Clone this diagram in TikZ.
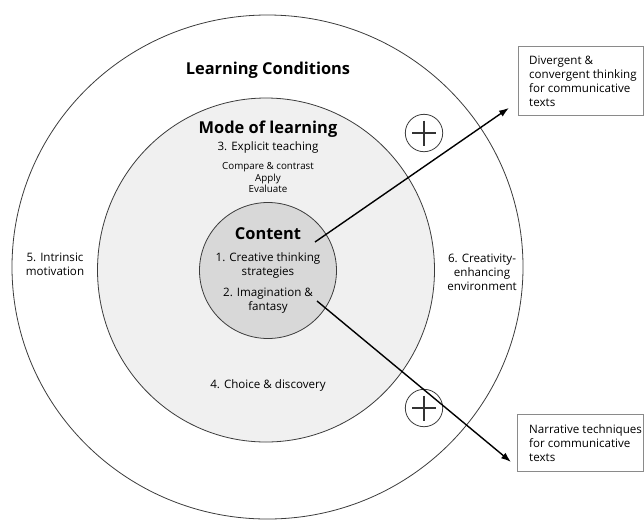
\documentclass[tikz,border=0pt]{standalone}
\usepackage{fontspec}
\setmainfont{Open Sans}
\usetikzlibrary{shapes.geometric,arrows.meta}
\definecolor{ringline}{HTML}{3C3C3C}
\definecolor{modefill}{HTML}{F0F0F0}
\definecolor{corefill}{HTML}{D8D8D8}
\definecolor{boxline}{HTML}{8A8A8A}
\definecolor{plusink}{HTML}{333333}
\begin{document}
\begin{tikzpicture}[x=1pt,y=-1pt,
  ring/.style={draw=ringline, line width=0.8pt, ellipse, inner sep=0pt},
  head/.style={font=\fontsize{16.4}{19}\selectfont\bfseries, inner sep=0pt},
  lbl/.style={font=\fontsize{11.6}{14}\selectfont, align=center, inner sep=0pt},
  small/.style={font=\fontsize{9.8}{11.7}\selectfont, align=center, inner sep=0pt},
  outbox/.style={draw=boxline, line width=0.9pt, anchor=north west, inner sep=0pt},
  outtext/.style={font=\fontsize{11.6}{14}\selectfont, align=left, inner sep=0pt, anchor=west},
  plus/.style={draw=ringline, circle, line width=0.8pt, minimum size=37.4pt, inner sep=0pt, fill=white},
  plusmark/.style={draw=plusink, line width=2.4pt},
  link/.style={line width=1.4pt, -{Latex[length=10pt,width=7pt]}}
]
\useasboundingbox (0,0) rectangle (644,520);

% nested rings
\node[ring, fill=white, minimum width=511pt, minimum height=504pt] (outer) at (267.5,267) {};
\node[ring, fill=modefill, minimum width=337pt, minimum height=344pt] (mode) at (266,270) {};
\node[ring, fill=corefill, minimum width=137pt, minimum height=136pt] (core) at (268,270.5) {};

% ring titles and items
\node[head] (condtitle) at (268,70) {Learning Conditions};
\node[head] (modetitle) at (268,129) {Mode of learning};
\node[lbl] (explicit) at (268,147) {3. Explicit teaching};
\node[small] (steps) at (268,177.5) {Compare \& contrast\\Apply\\Evaluate};
\node[head] (coretitle) at (268,234) {Content};
\node[lbl] (creative) at (268,265.5) {1. Creative thinking\\strategies};
\node[lbl] (imagine) at (268,301) {2. Imagination \&\\fantasy};
\node[lbl] (choice) at (268,385) {4. Choice \& discovery};
\node[lbl] (intrinsic) at (55,264.5) {5. Intrinsic\\motivation};
\node[lbl] (environ) at (482,272) {6. Creativity-\\enhancing\\environment};

% plus signs
\node[plus] (p1) at (424,133) {};
\node[plus] (p2) at (424,408) {};
\foreach \p in {p1,p2}{
  \draw[plusmark] (\p.center) ++(-12,0) -- ++(24,0);
  \draw[plusmark] (\p.center) ++(0,-12.5) -- ++(0,25);
}

% outcome boxes
\node[outbox, minimum width=125pt, minimum height=69pt] (box1) at (518,46) {};
\node[outtext] (box1text) at ([xshift=11pt]box1.west) {Divergent \&\\convergent thinking\\for communicative\\texts};
\node[outbox, minimum width=126pt, minimum height=57pt] (box2) at (517,414) {};
\node[outtext] (box2text) at ([xshift=12pt]box2.west) {Narrative techniques\\for communicative\\texts};

% arrows from the content ring to the outcomes
\coordinate (s1) at (315,242);
\coordinate (s2) at (317,301);
\coordinate (e1) at ([xshift=-9pt,yshift=8pt]box1.south west);
\coordinate (e2) at ([xshift=-6pt,yshift=-19pt]box2.west);
\draw[link] (s1) -- (e1);
\draw[link] (s2) -- (e2);
\end{tikzpicture}
\end{document}
